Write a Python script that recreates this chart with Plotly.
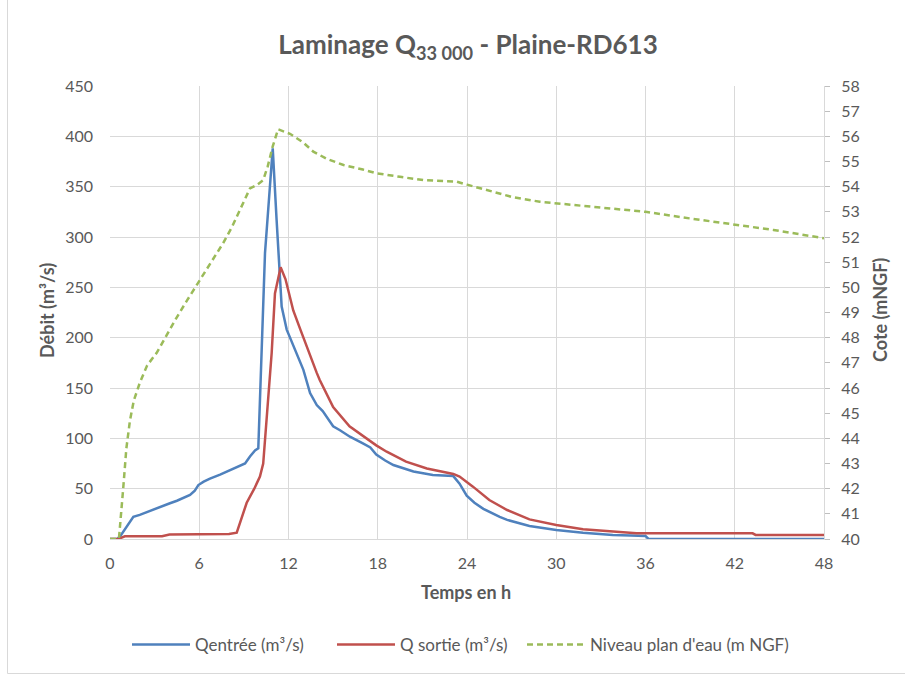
import plotly.graph_objects as go

# --- Data ---
t_in = [0, 0.5, 0.7, 1.0, 1.3, 1.57, 2.0, 2.5, 3.14, 3.6, 4.03, 4.5, 4.93, 5.38, 5.7, 5.94, 6.3, 6.72, 7.4, 8.07, 8.6, 9.08, 9.41, 9.75, 9.97,
        10.2, 10.42, 10.7, 10.94, 11.2, 11.54, 11.88, 12.55, 13.0, 13.45, 13.9, 14.3, 15.0, 15.46, 16.13, 17.0, 17.5, 17.9, 18.5, 19.05,
        20.4, 21.7, 23.08, 23.5, 23.98, 24.5, 25.1, 26.2, 26.7, 28.2, 30.0, 31.8, 33.8, 35.0, 36.0, 36.2, 48]
q_in = [0, 0, 3, 10, 17, 22, 24, 27, 30.5, 33, 35.5, 38, 40.4, 43.7, 48, 53.6, 57, 60, 64, 68.5, 72, 75, 82, 88, 90,
        185, 284, 340, 388, 317, 231, 208, 185, 168, 145, 133, 127, 112, 108, 101.6, 95, 91, 84, 78, 73.5,
        67, 63.6, 62.5, 55, 43, 36, 30, 22, 19, 13, 9, 6.3, 4, 3.5, 3, 0, 0]

t_out = [0, 0.56, 1.0, 1.5, 3.5, 4.0, 7.5, 8.0, 8.52, 9.19, 9.7, 10.08, 10.3, 10.53, 10.87, 11.09, 11.47, 11.8, 12.32, 12.8, 13.22, 13.9,
         14.1, 15.0, 16.1, 17.25, 17.9, 18.6, 19.9, 21.3, 23.08, 23.5, 24.4, 25.5, 26.7, 28.2, 30.0, 31.8, 33.8, 35.4, 43.2, 43.4, 48]
q_out = [0, 0, 2.7, 2.7, 2.7, 4.5, 4.7, 5.0, 6.3, 36, 50, 62, 75, 118, 185, 244, 270, 258, 227, 208, 191, 165,
         158, 131, 112, 100, 93, 86.7, 76.8, 70, 64.6, 62, 52, 38.7, 28.8, 19.5, 13.9, 9.6, 7, 5.6, 5.6, 4, 4]

t_niv = [0, 0.6, 0.9, 1.1, 1.34, 1.6, 2.0, 2.5, 3.14, 3.8, 4.48, 5.2, 5.94, 6.8, 7.6, 8.2, 8.74, 9.41, 9.86, 10.3, 10.6, 10.94, 11.3,
         12.1, 13.0, 13.67, 14.6, 15.7, 17.0, 17.93, 19.5, 21.06, 22.5, 23.3, 24.0, 24.9, 26.0, 27.1, 28.9, 30.0, 31.15, 33.4, 36.0,
         38.96, 42.0, 44.6, 48]
niv = [40, 40, 42.1, 43.6, 44.7, 45.5, 46.2, 46.9, 47.4, 48.1, 48.8, 49.5, 50.2, 51.0, 51.75, 52.4, 53.1, 53.93, 54.06, 54.26, 54.8, 55.6, 56.28,
       56.1, 55.75, 55.39, 55.1, 54.86, 54.68, 54.53, 54.39, 54.26, 54.22, 54.2, 54.08, 53.93, 53.75, 53.58, 53.4, 53.34, 53.27, 53.14, 53.0,
       52.74, 52.5, 52.28, 51.95]

x_ticks = [0, 6, 12, 18, 24, 30, 36, 42, 48]
y_ticks = [0, 50, 100, 150, 200, 250, 300, 350, 400, 450]
y2_ticks = list(range(40, 59))

TXT = "#595959"
GRID = "#d9d9d9"
FONT = "Lato, 'Open Sans', sans-serif"

W, H = 905, 675
L, R, T, B = 110, 81, 86, 136
pw, ph = W - L - R, H - T - B

def px(xp):
    return (xp - L) / pw

def py(yp):
    return (H - B - yp) / ph

fig = go.Figure()
fig.add_trace(go.Scatter(x=t_in, y=q_in, mode="lines", name="Qentrée (m³/s)", legend="legend",
                         line=dict(color="#4f81bd", width=2.5)))
fig.add_trace(go.Scatter(x=t_out, y=q_out, mode="lines", name="Q sortie (m³/s)", legend="legend2",
                         line=dict(color="#c0504d", width=2.5)))
fig.add_trace(go.Scatter(x=t_niv, y=niv, mode="lines", name="Niveau plan d'eau (m NGF)", yaxis="y2", legend="legend3",
                         line=dict(color="#9bbb59", width=2.5, dash="6px,4px")))

leg_common = dict(orientation="h", xanchor="left", y=py(645), yanchor="middle",
                  font=dict(size=17, color=TXT), itemwidth=58, bgcolor="rgba(0,0,0,0)")

fig.update_layout(
    width=W, height=H,
    margin=dict(l=L, r=R, t=T, b=B),
    paper_bgcolor="white", plot_bgcolor="white",
    font=dict(family=FONT, color=TXT, size=16),
    title=dict(text="<b>Laminage Q<sub>33 000</sub> - Plaine-RD613</b>", x=px(468), xref="paper", xanchor="center",
               y=1 - 45 / H, yanchor="middle", font=dict(size=26, color=TXT)),
    xaxis=dict(range=[0, 48], tickvals=x_ticks, showgrid=True, gridcolor=GRID, gridwidth=1,
               zeroline=False, showline=True, linecolor=GRID, linewidth=1,
               ticks="", ticklabelstandoff=10, tickfont=dict(size=16, color=TXT)),
    yaxis=dict(range=[0, 450], tickvals=y_ticks, showgrid=True, gridcolor=GRID, gridwidth=1,
               zeroline=False, showline=False, ticks="", ticklabelstandoff=16,
               tickfont=dict(size=16, color=TXT)),
    yaxis2=dict(range=[40, 58], tickvals=y2_ticks, overlaying="y", side="right", showgrid=False,
                zeroline=False, showline=True, linecolor=GRID, linewidth=1,
                ticks="outside", ticklen=5, tickcolor="#bfbfbf", ticklabelstandoff=8,
                tickfont=dict(size=16, color=TXT)),
    showlegend=True,
    legend=dict(x=px(127), **leg_common),
    legend2=dict(x=px(332), **leg_common),
    legend3=dict(x=px(522), **leg_common),
    annotations=[
        dict(text="<b>Temps en h</b>", x=px(466), y=py(592), xref="paper", yref="paper",
             showarrow=False, font=dict(size=18, color=TXT), xanchor="center", yanchor="middle"),
        dict(text="<b>Débit (m³/s)</b>", x=px(47), y=py(310), xref="paper", yref="paper",
             showarrow=False, textangle=-90, font=dict(size=18, color=TXT), xanchor="center", yanchor="middle"),
        dict(text="<b>Cote (mNGF)</b>", x=px(880), y=py(310), xref="paper", yref="paper",
             showarrow=False, textangle=-90, font=dict(size=18, color=TXT), xanchor="center", yanchor="middle"),
    ],
    shapes=[
        dict(type="rect", xref="paper", yref="paper", x0=px(7.5), x1=px(910), y0=py(673.5), y1=py(-5),
             line=dict(color="#d9d9d9", width=1), fillcolor="rgba(0,0,0,0)", layer="below"),
    ],
)

fig.write_html("out.html")
